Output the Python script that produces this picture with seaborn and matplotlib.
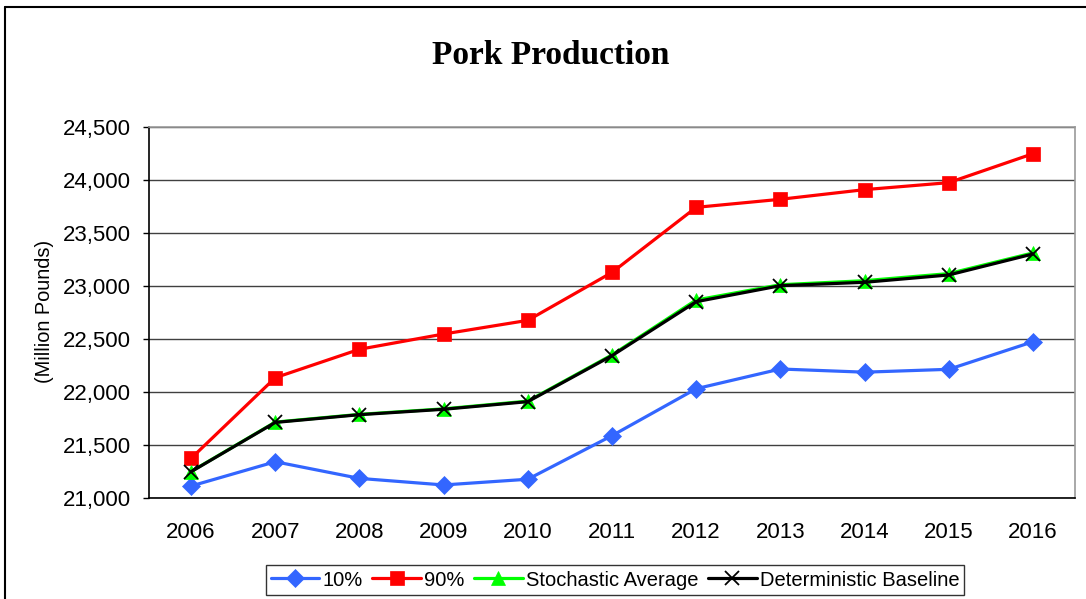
import pandas as pd
import matplotlib.pyplot as plt
import seaborn as sns
from matplotlib.ticker import FuncFormatter, FixedLocator
from matplotlib.lines import Line2D

# Values (million pounds).
years = ['2006', '2007', '2008', '2009', '2010', '2011', '2012', '2013', '2014', '2015', '2016']
p10 = [21113, 21342, 21185, 21123, 21177, 21588, 22031, 22217, 22187, 22214, 22474]
p90 = [21374, 22135, 22403, 22547, 22676, 23128, 23742, 23818, 23909, 23975, 24248]
stoch_avg = [21250, 21716, 21789, 21841, 21914, 22350, 22868, 23012, 23050, 23117, 23312]
det_base = [21248, 21713, 21786, 21837, 21909, 22343, 22852, 23003, 23035, 23104, 23302]

df = pd.DataFrame({'Year': years, 'pos': range(len(years)),
                   '10%': p10, '90%': p90,
                   'Stochastic Average': stoch_avg,
                   'Deterministic Baseline': det_base})

sns.set_style('white')
plt.rcParams['font.family'] = ['Liberation Sans', 'DejaVu Sans']
plt.rcParams['text.color'] = 'black'
plt.rcParams['xtick.color'] = 'black'
plt.rcParams['ytick.color'] = 'black'
plt.rcParams['axes.labelcolor'] = 'black'

W, H = 1086, 599
fig = plt.figure(figsize=(W / 100, H / 100), dpi=100)
ax = fig.add_axes([149/W, 1-498/H, (1075-149)/W, (498-127)/H])

styles = [('10%', '#3366FF', 'D', 9),
          ('90%', '#FF0000', 's', 10),
          ('Stochastic Average', '#00FF00', '^', 10),
          ('Deterministic Baseline', '#000000', 'x', 10)]
for name, col, mk, ms in styles:
    sns.lineplot(data=df, x='pos', y=name, ax=ax, color=col, marker=mk,
                 markersize=ms, linewidth=2.3, label=name,
                 markeredgecolor=col, markeredgewidth=1.3 if mk == 'x' else 0.5)

ax.set_xlim(-0.5, len(years) - 0.5)
ax.set_ylim(21000, 24500)
ax.set_yticks(range(21000, 24501, 500))
ax.yaxis.set_major_formatter(FuncFormatter(lambda v, p: f'{int(v):,}'))
ax.set_xticks(range(len(years)))
ax.set_xticklabels(years)
ax.xaxis.set_minor_locator(FixedLocator([i + 0.5 for i in range(-1, len(years))]))
ax.tick_params(axis='x', which='major', length=0, labelsize=16, pad=17)
ax.tick_params(axis='x', which='minor', length=6, width=1, color='black', direction='out')
ax.tick_params(axis='y', length=4.3, width=1, color='black', direction='out',
               labelsize=16, pad=9, left=True)
ax.grid(axis='y', color='#404040', linewidth=1)
ax.set_axisbelow(True)
for s in ['left', 'bottom']:
    ax.spines[s].set_color('black')
    ax.spines[s].set_linewidth(1.2)
for s in ['top', 'right']:
    ax.spines[s].set_color('#999999')
    ax.spines[s].set_linewidth(1.2)

ax.set_xlabel('')
ax.set_ylabel('')
fig.text(45/W, 1-311/H, '(Million Pounds)', rotation=90, ha='center', va='center',
         fontsize=14.4)

fig.text(551/W, 1-55/H, 'Pork Production', ha='center', va='center',
         fontsize=24, fontweight='bold', family='Liberation Serif')

ax.legend_.remove()
handles, labels = ax.get_legend_handles_labels()
leg = fig.legend(handles, labels, loc='center', bbox_to_anchor=(615/W, 1-580/H),
                 ncol=4, frameon=True, fancybox=False, fontsize=14.5,
                 handlelength=2.4, handletextpad=0.15, columnspacing=0.5,
                 borderpad=0.25, edgecolor='black')
leg.get_frame().set_linewidth(1)

# outer chart border (only left and top edges visible)
fig.add_artist(Line2D([5/W, 5/W], [0, 1-7/H], transform=fig.transFigure,
                      color='black', linewidth=1.5))
fig.add_artist(Line2D([5/W, 1], [1-7/H, 1-7/H], transform=fig.transFigure,
                      color='black', linewidth=1.5))

fig.savefig('out.png', dpi=100)
